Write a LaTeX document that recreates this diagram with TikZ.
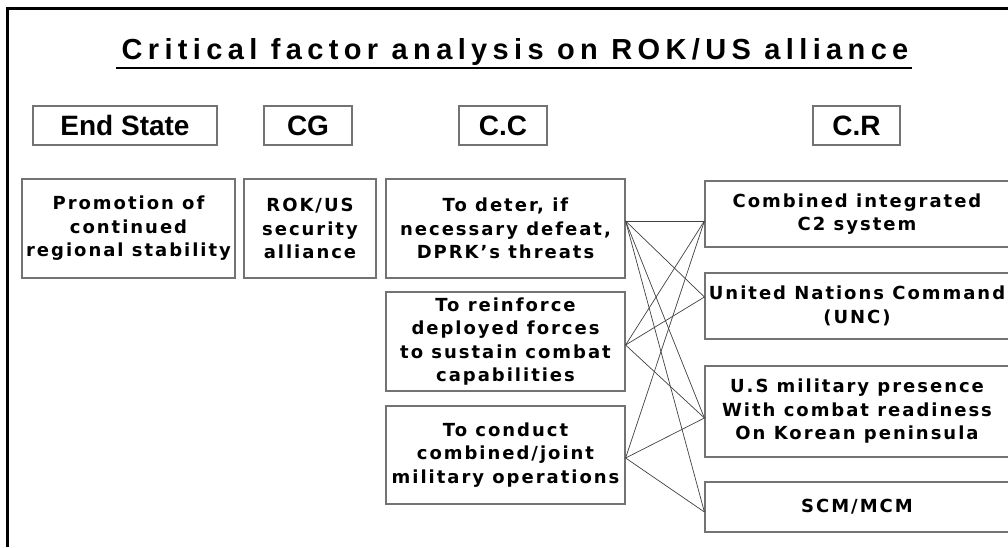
\documentclass[tikz,border=0pt]{standalone}
\usepackage{fontspec}
\setmainfont{Liberation Sans}
\newfontfamily\titlefont{Liberation Sans}[LetterSpace=18.5]
\newfontfamily\boxfont{DejaVu Sans}[LetterSpace=11]
\newfontfamily\headfont{Liberation Sans}
\usetikzlibrary{calc}

\begin{document}
\begin{tikzpicture}[x=1pt,y=-1pt,
  frame/.style={line width=3pt},
  box/.style={draw=black!55,line width=1.2pt,inner sep=0pt,align=center,
    font=\boxfont\bfseries\fontsize{18}{23.5}\selectfont},
  headbox/.style={draw=black!55,line width=1.2pt,inner sep=0pt,minimum height=39pt,
    font=\headfont\bfseries\fontsize{28}{30}\selectfont},
  link/.style={draw=black!75,line width=0.7pt}]
\useasboundingbox (0,0) rectangle (1008,547);
\clip (0,0) rectangle (1008,547);

% page frame: left and top rules only
\draw[frame] (7.5,547) -- (7.5,8.5) -- (1010,8.5);

% title with underline
\node[anchor=base,font=\titlefont\bfseries\fontsize{29}{32}\selectfont] (title) at (515,59)
  {Critical factor analysis on ROK/US alliance};
\draw[line width=2pt] (116,68) -- (912,68);

% column headers
\node[headbox,minimum width=184pt] (hes) at (125,125.5) {End State};
\node[headbox,minimum width=88pt]  (hcg) at (308,125.5) {CG};
\node[headbox,minimum width=88pt]  (hcc) at (503,125.5) {C.C};
\node[headbox,minimum width=87pt]  (hcr) at (856.5,125.5) {C.R};

% end state and centre of gravity
\node[box,minimum width=213pt,minimum height=99pt] (es) at (128.5,228.5)
  {Promotion of\\continued\\regional stability};
\node[box,minimum width=132pt,minimum height=99pt] (cg) at (310,228.5)
  {ROK/US\\security\\alliance};

% critical capabilities
\node[box,minimum width=239pt,minimum height=99pt] (l1) at (505.5,228.5)
  {To deter, if\\necessary defeat,\\DPRK’s threats};
\node[box,minimum width=239pt,minimum height=99pt] (l2) at (505.5,341.5)
  {To reinforce\\deployed forces\\to sustain combat\\capabilities};
\node[box,minimum width=239pt,minimum height=98pt] (l3) at (505.5,455)
  {To conduct\\combined/joint\\military operations};

% critical requirements
\node[box,minimum width=304pt,minimum height=66pt] (r1) at (857,214)
  {Combined integrated\\C2 system};
\node[box,minimum width=304pt,minimum height=66pt] (r2) at (857,306)
  {United Nations Command\\(UNC)};
\node[box,minimum width=304pt,minimum height=91pt] (r3) at (857,411.5)
  {U.S military presence\\With combat readiness\\On Korean peninsula};
\node[box,minimum width=304pt,minimum height=50pt] (r4) at (857,507)
  {SCM/MCM};

% attachment points on the box edges
\coordinate (l1o) at ([yshift=7.5pt]l1.east);
\coordinate (l2o) at ([yshift=-3.5pt]l2.east);
\coordinate (l3o) at ([yshift=-3pt]l3.east);
\coordinate (r1i) at ([yshift=-7pt]r1.west);
\coordinate (r2i) at ([yshift=9pt]r2.west);
\coordinate (r3i) at ([yshift=-6.5pt]r3.west);
\coordinate (r4i) at ([yshift=-5pt]r4.west);

% capability-requirement links
\draw[link] (l1o) -- (r1i);
\draw[link] (l1o) -- (r2i);
\draw[link] (l1o) -- (r3i);
\draw[link] (l1o) -- (r4i);
\draw[link] (l2o) -- (r1i);
\draw[link] (l2o) -- (r2i);
\draw[link] (l2o) -- (r3i);
\draw[link] (l3o) -- (r1i);
\draw[link] (l3o) -- (r3i);
\draw[link] (l3o) -- (r4i);
\end{tikzpicture}
\end{document}
